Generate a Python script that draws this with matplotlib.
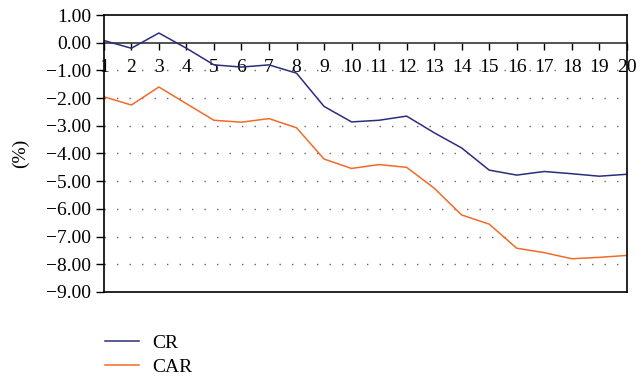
import matplotlib
matplotlib.use("Agg")
import matplotlib.pyplot as plt
import numpy as np

# event window days
days = list(range(1, 21))
cr = [0.08, -0.20, 0.35, -0.20, -0.80, -0.88, -0.80, -1.10, -2.30, -2.86,
      -2.80, -2.65, -3.25, -3.80, -4.60, -4.78, -4.65, -4.73, -4.82, -4.75]
car = [-1.95, -2.25, -1.60, -2.20, -2.80, -2.87, -2.74, -3.07, -4.20, -4.54,
       -4.40, -4.50, -5.25, -6.22, -6.55, -7.42, -7.58, -7.80, -7.75, -7.68]
y_ticks = np.arange(-9, 2, 1)

plt.rcParams['font.family'] = ['Liberation Serif', 'DejaVu Serif']

fig = plt.figure(figsize=(6.37, 3.79), dpi=100)
ax = fig.add_axes([0.163, 0.2296, 0.821, 0.7308])

l1, = ax.plot(days, cr, color='#2b2d7c', lw=1.1, label='CR')
l2, = ax.plot(days, car, color='#f26a2a', lw=1.1, label='CAR')

ax.set_xlim(1, 20)
ax.set_ylim(-9, 1)
ax.set_yticks(y_ticks)
ax.set_yticklabels(['\u2212%.2f' % abs(v) if v < 0 else '%.2f' % v for v in y_ticks])
ax.tick_params(axis='y', direction='out', length=6, width=1, labelsize=14, pad=3)

# dotted gridlines
for v in y_ticks:
    if v not in (-9, 0, 1):
        ax.axhline(v, color='#666666', lw=1, ls=(0, (1, 8)), zorder=0)

# category axis sitting on zero
ax.set_xticks([])
sec = ax.secondary_xaxis(0.9)
sec.set_xticks(days)
sec.set_xticklabels([str(d) for d in days])
sec.xaxis.set_ticks_position('bottom')
sec.xaxis.set_label_position('bottom')
sec.tick_params(axis='x', bottom=True, top=False, labelbottom=True, labeltop=False,
                direction='out', length=5, width=1, labelsize=14, pad=7)
for name, s in sec.spines.items():
    s.set_visible(name == 'bottom')
sec.spines['bottom'].set_linewidth(1.2)
sec.spines['bottom'].set_color('#333333')

for s in ax.spines.values():
    s.set_linewidth(1.2)
    s.set_color('black')

ax.set_ylabel('(%)', fontsize=14, labelpad=12)

fig.legend(handles=[l1, l2], loc='upper left', bbox_to_anchor=(0.138, 0.165),
           frameon=False, fontsize=14, handlelength=1.75, handletextpad=0.65,
           labelspacing=0.35)

fig.savefig('out.png', dpi=100)
